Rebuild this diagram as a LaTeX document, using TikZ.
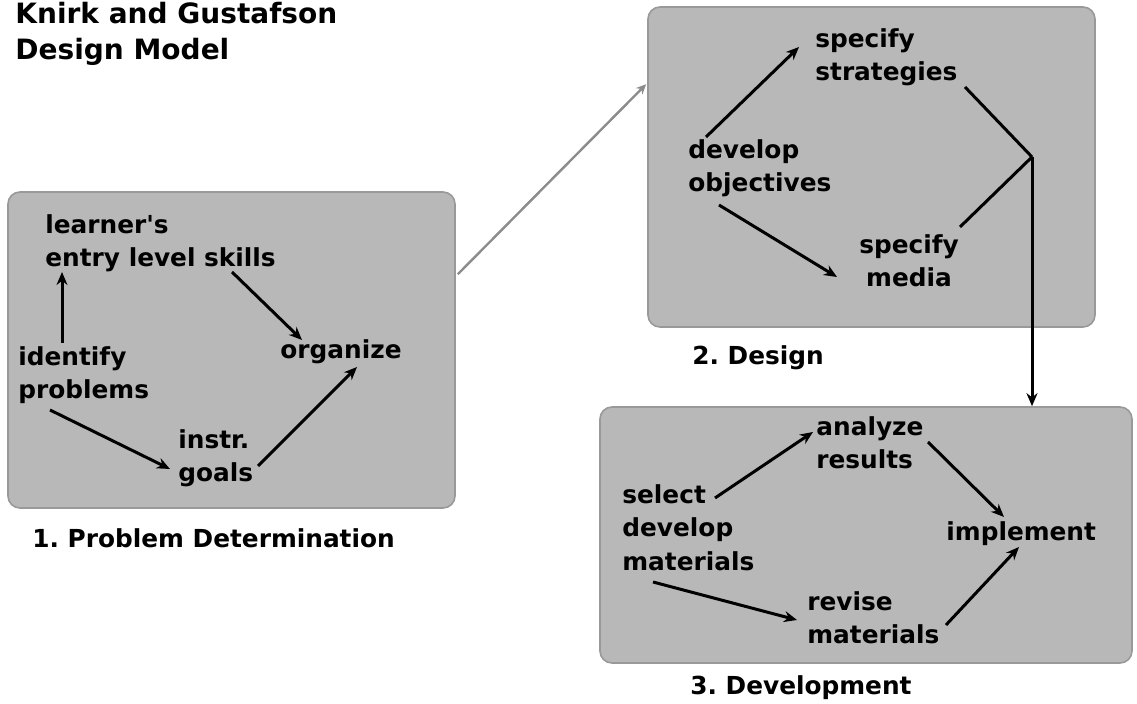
\documentclass[tikz,border=0pt]{standalone}
\usepackage{fontspec}
\setmainfont{DejaVu Sans}
\usetikzlibrary{arrows.meta,calc,fit}

\begin{document}
\frenchspacing
\begin{tikzpicture}[x=0.5pt,y=-0.5pt,
    stage/.style={draw=gray!80, fill=gray!56, rounded corners=6pt, inner sep=0pt, line width=0.8pt},
    txt/.style={inner sep=0pt, anchor=north west, align=left, font=\fontsize{12.4}{16.8}\selectfont\bfseries},
    stagecap/.style={inner sep=0pt, anchor=base west, font=\fontsize{12.4}{16.8}\selectfont\bfseries},
    arr/.style={-{Stealth[length=6.5pt,width=5.5pt]}, line width=1.5pt},
    link/.style={line width=1.5pt}]
	\useasboundingbox[fill=white] (0,0) rectangle (1137,704);

	% the three stages
	\node[stage, fit={(8,192) (455,508)}] (probbox) {};
	\node[stage, fit={(648,7) (1095,327)}] (desbox) {};
	\node[stage, fit={(600,407) (1132,663)}] (devbox) {};

	\node[txt, font=\fontsize{14}{18}\selectfont\bfseries] (title) at (15,2) {Knirk and Gustafson\\Design Model};

	\node[stagecap] (cap1) at (32,548) {1. Problem Determination};
	\node[stagecap] (cap2) at (692,365) {2. Design};
	\node[stagecap] (cap3) at (690,695) {3. Development};

	% problem determination
	\node[txt] (lrn) at (45,214) {learner\textquotesingle s\\entry level skills};
	\node[txt] (idp) at (18,346) {identify\\problems};
	\node[txt] (org) at (280,339) {organize};
	\node[txt] (ins) at (178,429) {instr.\\goals};

	\draw[arr] ($(idp.north west)+(44,-3)$) -- ($(lrn.north west)+(17,58)$);
	\draw[arr] ($(lrn.north west)+(187,58)$) -- ($(org.north west)+(22,1)$);
	\draw[arr] ($(idp.north west)+(32,64)$) -- ($(ins.north west)+(-8,40)$);
	\draw[arr] ($(ins.north west)+(80,37)$) -- ($(org.north west)+(77,28)$);

	% design
	\node[txt] (sps) at (815,28) {specify\\strategies};
	\node[txt] (dvo) at (688,139) {develop\\objectives};
	\node[txt, anchor=north, align=center] (spm) at (909,234) {specify\\media};
	\coordinate (join) at (1032,157);

	\draw[arr] ($(dvo.north west)+(18,-2)$) -- ($(sps.north west)+(-16,19)$);
	\draw[arr] ($(dvo.north west)+(31,66)$) -- ($(spm.north)+(-72,43)$);
	\draw[link] ($(sps.north west)+(150,59)$) -- (join);
	\draw[link] ($(spm.north)+(51,-7)$) -- (join);
	\draw[arr] (join) -- (join |- devbox.north);

	% development
	\node[txt] (anr) at (816,416) {analyze\\results};
	\node[txt] (sdm) at (622,484) {select\\develop\\materials};
	\node[txt] (imp) at (946,521) {implement};
	\node[txt] (rvm) at (807,591) {revise\\materials};

	\draw[arr] ($(sdm.north west)+(93,14)$) -- ($(anr.north west)+(-3,16)$);
	\draw[arr] ($(anr.north west)+(112,26)$) -- ($(imp.north west)+(58,-4)$);
	\draw[arr] ($(sdm.north west)+(31,98)$) -- ($(rvm.north west)+(-10,29)$);
	\draw[arr] ($(rvm.north west)+(139,34)$) -- ($(imp.north west)+(73,26)$);

	% stage 1 to stage 2
	\draw[-{Stealth[length=5pt,width=4.5pt]}, gray!90, line width=1.2pt]
	  ($(probbox.north east)+(2,83)$) -- ($(desbox.north west)+(-1,78)$);
\end{tikzpicture}
\end{document}
